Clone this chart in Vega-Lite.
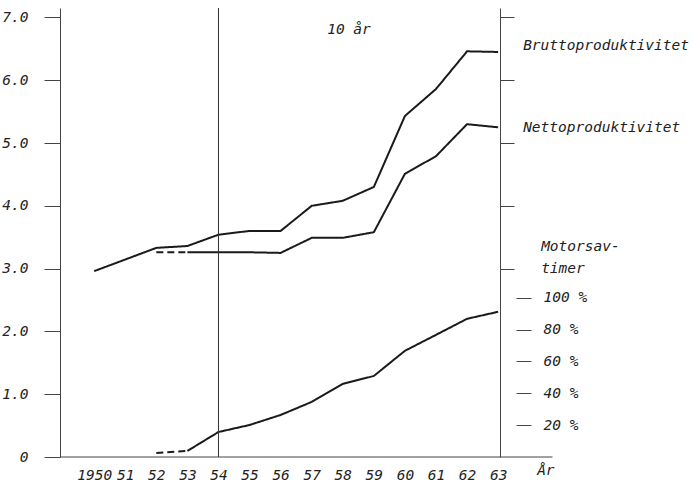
{
  "$schema": "https://vega.github.io/schema/vega-lite/v6.json",
  "width": 440,
  "height": 449,
  "autosize": {"type": "none"},
  "padding": {"left": 60, "top": 8, "right": 193, "bottom": 28},
  "background": "white",
  "config": {
    "view": {"stroke": null},
    "font": "DejaVu Sans Mono",
    "axis": {"labelFont": "DejaVu Sans Mono", "labelFontStyle": "italic", "labelColor": "#222", "labelFontSize": 14.5, "domainColor": "#444", "tickColor": "#444", "grid": false, "title": null},
    "text": {"font": "DejaVu Sans Mono", "fontStyle": "italic", "fontSize": 14.5, "color": "#222"}
  },
  "datasets": {
    "prod": [
      {"series": "Bruttoproduktivitet", "segment": "B", "style": "solid", "year": 1950, "value": 2.96},
      {"series": "Bruttoproduktivitet", "segment": "B", "style": "solid", "year": 1952, "value": 3.33},
      {"series": "Bruttoproduktivitet", "segment": "B", "style": "solid", "year": 1953, "value": 3.36},
      {"series": "Bruttoproduktivitet", "segment": "B", "style": "solid", "year": 1954, "value": 3.54},
      {"series": "Bruttoproduktivitet", "segment": "B", "style": "solid", "year": 1955, "value": 3.60},
      {"series": "Bruttoproduktivitet", "segment": "B", "style": "solid", "year": 1956, "value": 3.60},
      {"series": "Bruttoproduktivitet", "segment": "B", "style": "solid", "year": 1957, "value": 4.00},
      {"series": "Bruttoproduktivitet", "segment": "B", "style": "solid", "year": 1958, "value": 4.08},
      {"series": "Bruttoproduktivitet", "segment": "B", "style": "solid", "year": 1959, "value": 4.30},
      {"series": "Bruttoproduktivitet", "segment": "B", "style": "solid", "year": 1960, "value": 5.43},
      {"series": "Bruttoproduktivitet", "segment": "B", "style": "solid", "year": 1961, "value": 5.86},
      {"series": "Bruttoproduktivitet", "segment": "B", "style": "solid", "year": 1962, "value": 6.46},
      {"series": "Bruttoproduktivitet", "segment": "B", "style": "solid", "year": 1963, "value": 6.45},
      {"series": "Nettoproduktivitet", "segment": "Nd", "style": "dashed", "year": 1952, "value": 3.26},
      {"series": "Nettoproduktivitet", "segment": "Nd", "style": "dashed", "year": 1953, "value": 3.26},
      {"series": "Nettoproduktivitet", "segment": "N", "style": "solid", "year": 1953, "value": 3.26},
      {"series": "Nettoproduktivitet", "segment": "N", "style": "solid", "year": 1954, "value": 3.26},
      {"series": "Nettoproduktivitet", "segment": "N", "style": "solid", "year": 1955, "value": 3.26},
      {"series": "Nettoproduktivitet", "segment": "N", "style": "solid", "year": 1956, "value": 3.25},
      {"series": "Nettoproduktivitet", "segment": "N", "style": "solid", "year": 1957, "value": 3.49},
      {"series": "Nettoproduktivitet", "segment": "N", "style": "solid", "year": 1958, "value": 3.49},
      {"series": "Nettoproduktivitet", "segment": "N", "style": "solid", "year": 1959, "value": 3.58},
      {"series": "Nettoproduktivitet", "segment": "N", "style": "solid", "year": 1960, "value": 4.51},
      {"series": "Nettoproduktivitet", "segment": "N", "style": "solid", "year": 1961, "value": 4.79},
      {"series": "Nettoproduktivitet", "segment": "N", "style": "solid", "year": 1962, "value": 5.30},
      {"series": "Nettoproduktivitet", "segment": "N", "style": "solid", "year": 1963, "value": 5.25}
    ],
    "motor": [
      {"series": "Motorsavtimer", "segment": "Md", "style": "dashed", "year": 1952, "percent": 2.5},
      {"series": "Motorsavtimer", "segment": "Md", "style": "dashed", "year": 1953, "percent": 3.8},
      {"series": "Motorsavtimer", "segment": "M", "style": "solid", "year": 1953, "percent": 3.8},
      {"series": "Motorsavtimer", "segment": "M", "style": "solid", "year": 1954, "percent": 15.7},
      {"series": "Motorsavtimer", "segment": "M", "style": "solid", "year": 1955, "percent": 20.1},
      {"series": "Motorsavtimer", "segment": "M", "style": "solid", "year": 1956, "percent": 26.4},
      {"series": "Motorsavtimer", "segment": "M", "style": "solid", "year": 1957, "percent": 34.6},
      {"series": "Motorsavtimer", "segment": "M", "style": "solid", "year": 1958, "percent": 45.9},
      {"series": "Motorsavtimer", "segment": "M", "style": "solid", "year": 1959, "percent": 50.9},
      {"series": "Motorsavtimer", "segment": "M", "style": "solid", "year": 1960, "percent": 66.7},
      {"series": "Motorsavtimer", "segment": "M", "style": "solid", "year": 1961, "percent": 76.7},
      {"series": "Motorsavtimer", "segment": "M", "style": "solid", "year": 1962, "percent": 86.8},
      {"series": "Motorsavtimer", "segment": "M", "style": "solid", "year": 1963, "percent": 91.2}
    ]
  },
  "resolve": {"scale": {"y": "independent"}, "axis": {"x": "independent"}},
  "layer": [
    {
      "data": {"name": "prod"},
      "mark": {"type": "line", "color": "#1a1a1a", "strokeWidth": 2},
      "encoding": {
        "x": {
          "field": "year", "type": "quantitative",
          "scale": {"domain": [1948.9, 1963.06], "nice": false, "zero": false},
          "axis": {"orient": "bottom", "values": [1950, 1951, 1952, 1953, 1954, 1955, 1956, 1957, 1958, 1959, 1960, 1961, 1962, 1963], "format": "d", "labelExpr": "datum.value == 1950 ? datum.label : substring(datum.label, 2, 4)", "domain": false, "ticks": false, "labelPadding": 11, "labelFlush": false, "title": null}
        },
        "y": {
          "field": "value", "type": "quantitative",
          "scale": {"domain": [0, 7.15], "nice": false, "zero": true},
          "axis": {"orient": "left", "values": [0, 1, 2, 3, 4, 5, 6, 7], "labelExpr": "datum.value == 0 ? '0' : format(datum.value, '.1f')", "tickSize": 16, "labelPadding": 16, "labelFlush": false, "domain": true, "title": null}
        },
        "detail": {"field": "segment"},
        "strokeDash": {"field": "style", "type": "nominal", "scale": {"domain": ["solid", "dashed"], "range": [[1, 0], [7, 4]]}, "legend": null}
      }
    },
    {
      "data": {"name": "motor"},
      "mark": {"type": "line", "color": "#1a1a1a", "strokeWidth": 2},
      "encoding": {
        "x": {"field": "year", "type": "quantitative", "axis": null},
        "y": {
          "field": "percent", "type": "quantitative",
          "scale": {"domain": [0, 282], "nice": false},
          "axis": {"orient": "right", "offset": 16, "values": [20, 40, 60, 80, 100], "labelExpr": "datum.value + ' %'", "tickSize": 15, "labelPadding": 12, "domain": false, "labelFlush": false, "title": null}
        },
        "detail": {"field": "segment"},
        "strokeDash": {"field": "style", "type": "nominal", "scale": {"domain": ["solid", "dashed"], "range": [[1, 0], [7, 4]]}, "legend": null}
      }
    },
    {
      "data": {"name": "prod"},
      "mark": {"type": "point", "opacity": 0},
      "encoding": {
        "x": {"field": "year", "type": "quantitative", "axis": null},
        "y": {
          "field": "value", "type": "quantitative",
          "scale": {"domain": [0, 7.15], "nice": false},
          "axis": {"orient": "right", "values": [3, 4, 5, 6, 7], "labels": false, "tickSize": 14, "domain": true, "title": null}
        }
      }
    },
    {
      "data": {"values": [{"year": 1954}]},
      "mark": {"type": "rule", "color": "#333", "strokeWidth": 1},
      "encoding": {
        "x": {"field": "year", "type": "quantitative", "axis": null}
      }
    },
    {
      "data": {"values": [{}]},
      "mark": {"type": "rule", "color": "#444", "strokeWidth": 1},
      "encoding": {
        "x": {"datum": 1948.9, "type": "quantitative", "axis": null},
        "x2": {"datum": 1964.75},
        "y": {"datum": 0, "type": "quantitative", "scale": {"domain": [0, 7.15], "nice": false}, "axis": null}
      }
    },
    {
      "data": {"values": [
        {"label": "Bruttoproduktivitet", "year": 1963, "value": 6.54},
        {"label": "Nettoproduktivitet", "year": 1963, "value": 5.24}
      ]},
      "mark": {"type": "text", "align": "left", "baseline": "middle", "dx": 25},
      "encoding": {
        "x": {"field": "year", "type": "quantitative", "axis": null},
        "y": {"field": "value", "type": "quantitative", "scale": {"domain": [0, 7.15], "nice": false}, "axis": null},
        "text": {"field": "label"}
      }
    },
    {
      "data": {"values": [{"label": "Motorsav-\ntimer", "year": 1963, "value": 3.46}]},
      "mark": {"type": "text", "align": "left", "baseline": "top", "dx": 43, "lineBreak": "\n", "lineHeight": 22},
      "encoding": {
        "x": {"field": "year", "type": "quantitative", "axis": null},
        "y": {"field": "value", "type": "quantitative", "scale": {"domain": [0, 7.15], "nice": false}, "axis": null},
        "text": {"field": "label"}
      }
    },
    {
      "data": {"values": [{"label": "10 år", "year": 1958.2, "value": 6.8}]},
      "mark": {"type": "text", "align": "center", "baseline": "middle"},
      "encoding": {
        "x": {"field": "year", "type": "quantitative", "axis": null},
        "y": {"field": "value", "type": "quantitative", "scale": {"domain": [0, 7.15], "nice": false}, "axis": null},
        "text": {"field": "label"}
      }
    },
    {
      "data": {"values": [{"label": "År", "year": 1963, "value": 0}]},
      "mark": {"type": "text", "align": "left", "baseline": "middle", "dx": 39, "dy": 14},
      "encoding": {
        "x": {"field": "year", "type": "quantitative", "axis": null},
        "y": {"field": "value", "type": "quantitative", "scale": {"domain": [0, 7.15], "nice": false}, "axis": null},
        "text": {"field": "label"}
      }
    }
  ]
}
